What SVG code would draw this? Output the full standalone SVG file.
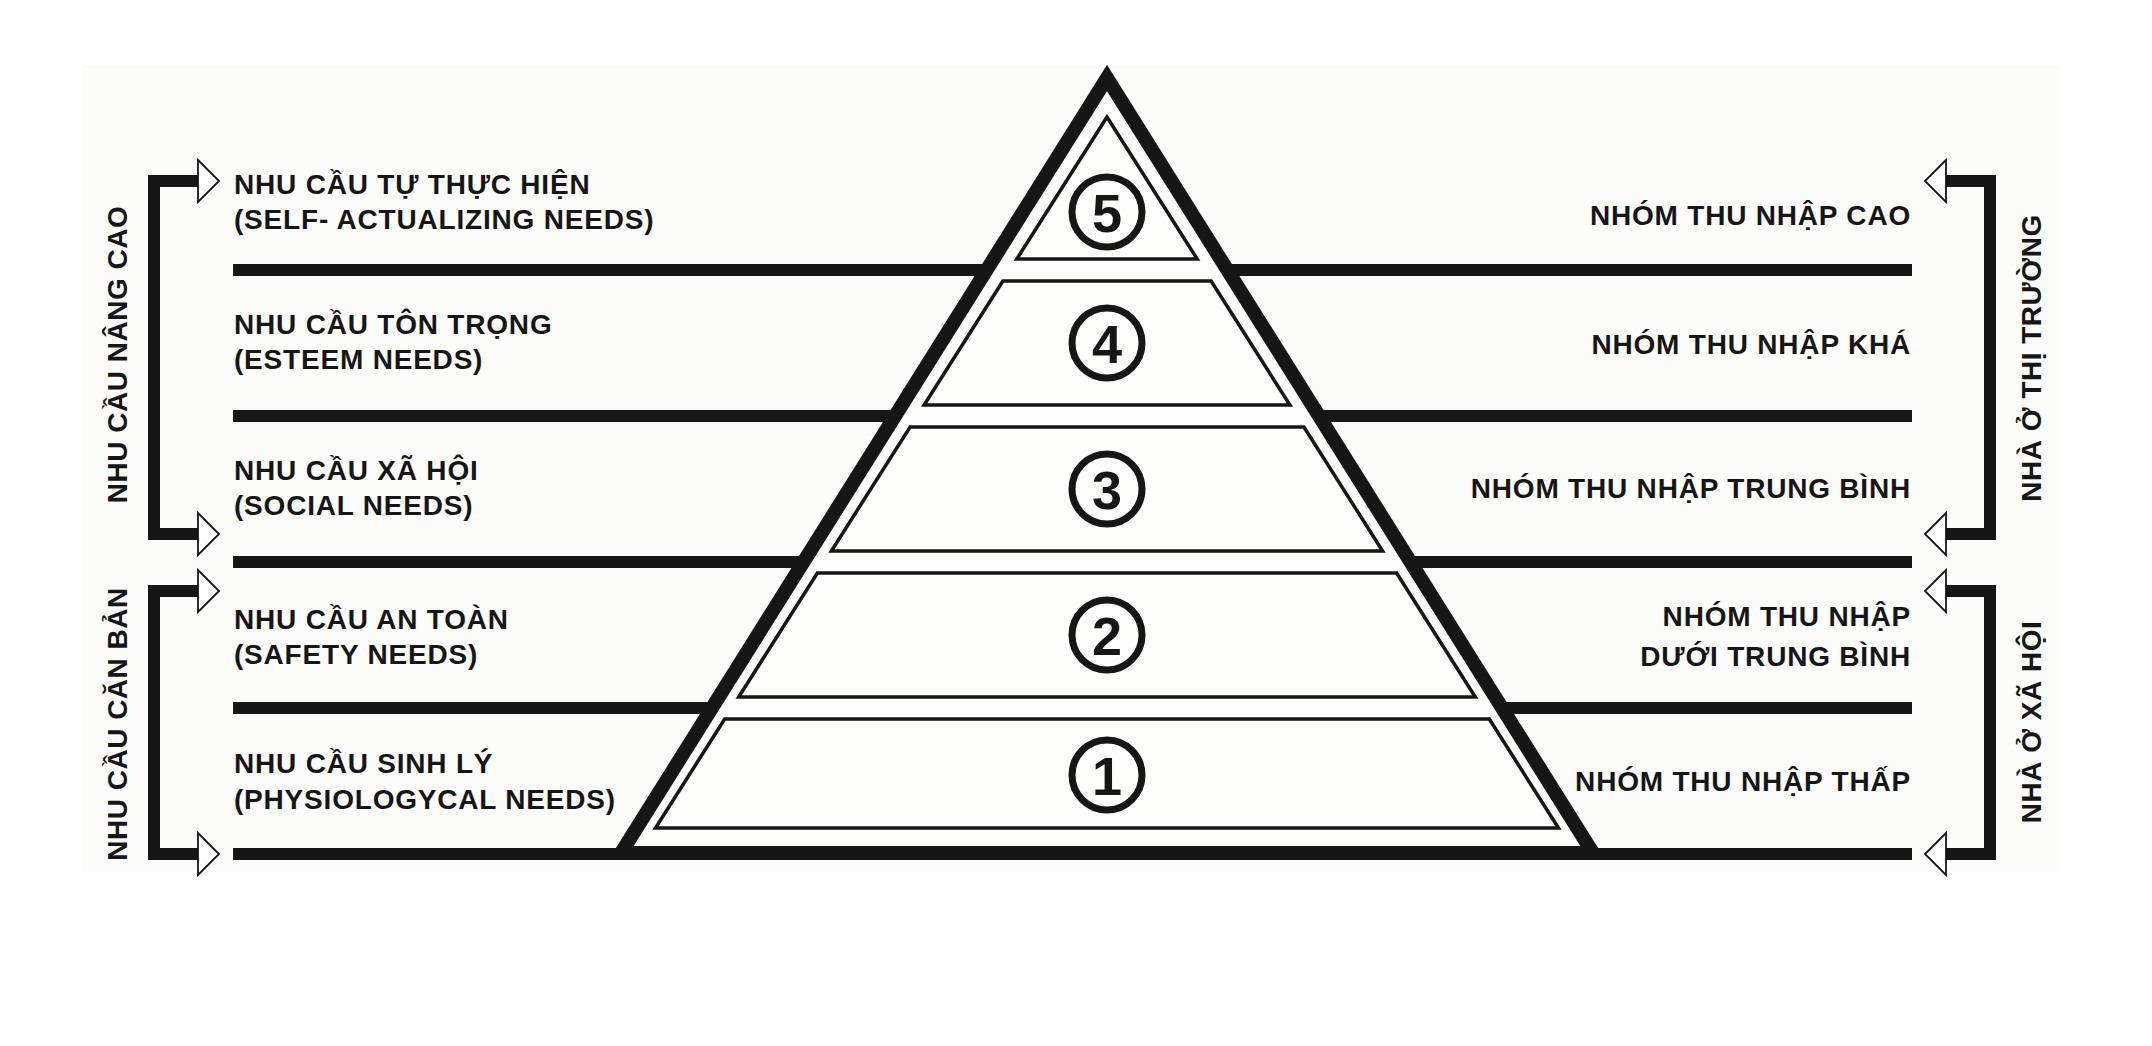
<svg xmlns="http://www.w3.org/2000/svg" width="2152" height="1046" viewBox="0 0 2152 1046">
  <style>
    .lbl { font-family: "Liberation Sans", Arial, "Noto Sans", sans-serif; font-weight: bold; font-size: 28px; letter-spacing: 0.8px; fill: #161616; }
    .vlbl { font-family: "Liberation Sans", Arial, "Noto Sans", sans-serif; font-weight: bold; font-size: 28px; letter-spacing: 0.5px; fill: #161616; text-anchor: middle; }
    .num { font-family: "Liberation Sans", Arial, "Noto Sans", sans-serif; font-weight: bold; font-size: 54px; fill: #161616; text-anchor: middle; }
    .bar { stroke: #161616; stroke-width: 12; fill: none; }
    .outer { fill: #fdfdfc; stroke: #161616; stroke-width: 14; stroke-linejoin: miter; }
    .tier { fill: #fdfdfc; stroke: #161616; stroke-width: 3.5; stroke-linejoin: miter; }
    .circ { fill: none; stroke: #161616; stroke-width: 7; }
    .bracket { fill: none; stroke: #161616; stroke-width: 12; stroke-linejoin: miter; stroke-linecap: butt; }
    .head { fill: #ffffff; stroke: #161616; stroke-width: 1.8; stroke-linejoin: miter; }
  </style>
  <rect x="0" y="0" width="2152" height="1046" fill="#ffffff"/>
  <rect x="82" y="65" width="1978" height="808" fill="#fcfcfa"/>

  <g id="dividers">
    <line class="bar" x1="233" y1="270" x2="1912" y2="270"/>
    <line class="bar" x1="233" y1="416" x2="1912" y2="416"/>
    <line class="bar" x1="233" y1="562" x2="1912" y2="562"/>
    <line class="bar" x1="233" y1="708" x2="1912" y2="708"/>
    <line class="bar" x1="233" y1="854" x2="1912" y2="854"/>
  </g>

  <g id="pyramid">
    <polygon class="outer" points="1107,78 621,853 1593,853"/>
  </g>

  <g id="tier-5">
    <polygon class="tier" points="1107,117 1016.8,259 1197.2,259"/>
    <circle class="circ" cx="1107" cy="212" r="35"/>
    <text class="num" x="1107" y="231.5">5</text>
  </g>
  <g id="tier-4">
    <polygon class="tier" points="1002.9,281 1211.1,281 1289.9,405 924.1,405"/>
    <circle class="circ" cx="1107" cy="343" r="35"/>
    <text class="num" x="1107" y="362.5">4</text>
  </g>
  <g id="tier-3">
    <polygon class="tier" points="910.1,427 1303.9,427 1382.6,551 831.4,551"/>
    <circle class="circ" cx="1107" cy="489" r="35"/>
    <text class="num" x="1107" y="508.5">3</text>
  </g>
  <g id="tier-2">
    <polygon class="tier" points="817.4,573 1396.6,573 1475.3,697 738.7,697"/>
    <circle class="circ" cx="1107" cy="635" r="35"/>
    <text class="num" x="1107" y="654.5">2</text>
  </g>
  <g id="tier-1">
    <polygon class="tier" points="724.7,719 1489.3,719 1558.5,828 655.5,828"/>
    <circle class="circ" cx="1107" cy="775" r="35"/>
    <text class="num" x="1107" y="794.5">1</text>
  </g>

  <g id="need-5">
    <text class="lbl" x="234" y="194">NHU CẦU TỰ THỰC HIỆN</text>
    <text class="lbl" x="234" y="229">(SELF- ACTUALIZING NEEDS)</text>
  </g>
  <g id="need-4">
    <text class="lbl" x="234" y="334">NHU CẦU TÔN TRỌNG</text>
    <text class="lbl" x="234" y="369">(ESTEEM NEEDS)</text>
  </g>
  <g id="need-3">
    <text class="lbl" x="234" y="480">NHU CẦU XÃ HỘI</text>
    <text class="lbl" x="234" y="515">(SOCIAL NEEDS)</text>
  </g>
  <g id="need-2">
    <text class="lbl" x="234" y="629">NHU CẦU AN TOÀN</text>
    <text class="lbl" x="234" y="664">(SAFETY NEEDS)</text>
  </g>
  <g id="need-1">
    <text class="lbl" x="234" y="773">NHU CẦU SINH LÝ</text>
    <text class="lbl" x="234" y="809">(PHYSIOLOGYCAL NEEDS)</text>
  </g>

  <g id="income-5">
    <text class="lbl" x="1911" y="225" text-anchor="end">NHÓM THU NHẬP CAO</text>
  </g>
  <g id="income-4">
    <text class="lbl" x="1911" y="354" text-anchor="end">NHÓM THU NHẬP KHÁ</text>
  </g>
  <g id="income-3">
    <text class="lbl" x="1911" y="498" text-anchor="end">NHÓM THU NHẬP TRUNG BÌNH</text>
  </g>
  <g id="income-2">
    <text class="lbl" x="1911" y="626" text-anchor="end">NHÓM THU NHẬP</text>
    <text class="lbl" x="1911" y="666" text-anchor="end">DƯỚI TRUNG BÌNH</text>
  </g>
  <g id="income-1">
    <text class="lbl" x="1911" y="791" text-anchor="end">NHÓM THU NHẬP THẤP</text>
  </g>

  <g id="group-advanced">
    <text class="vlbl" transform="translate(127,354.5) rotate(-90)">NHU CẦU NÂNG CAO</text>
  </g>
  <g id="group-basic">
    <text class="vlbl" transform="translate(127,724) rotate(-90)">NHU CẦU CĂN BẢN</text>
  </g>
  <g id="group-market">
    <text class="vlbl" transform="translate(2041,358) rotate(-90)">NHÀ Ở THỊ TRƯỜNG</text>
  </g>
  <g id="group-social">
    <text class="vlbl" transform="translate(2041,722) rotate(-90)">NHÀ Ở XÃ HỘI</text>
  </g>

  <g id="connectors">
    <path class="bracket" d="M198,181 H154 V534 H198"/>
    <path class="bracket" d="M198,591 H154 V854 H198"/>
    <path class="bracket" d="M1946,181 H1990 V534 H1946"/>
    <path class="bracket" d="M1946,591 H1990 V854 H1946"/>
    <polygon class="head" points="198,160 219,181 198,202"/>
    <polygon class="head" points="198,513 219,534 198,555"/>
    <polygon class="head" points="198,570 219,591 198,612"/>
    <polygon class="head" points="198,833 219,854 198,875"/>
    <polygon class="head" points="1946,160 1925,181 1946,202"/>
    <polygon class="head" points="1946,513 1925,534 1946,555"/>
    <polygon class="head" points="1946,570 1925,591 1946,612"/>
    <polygon class="head" points="1946,833 1925,854 1946,875"/>
  </g>
</svg>
